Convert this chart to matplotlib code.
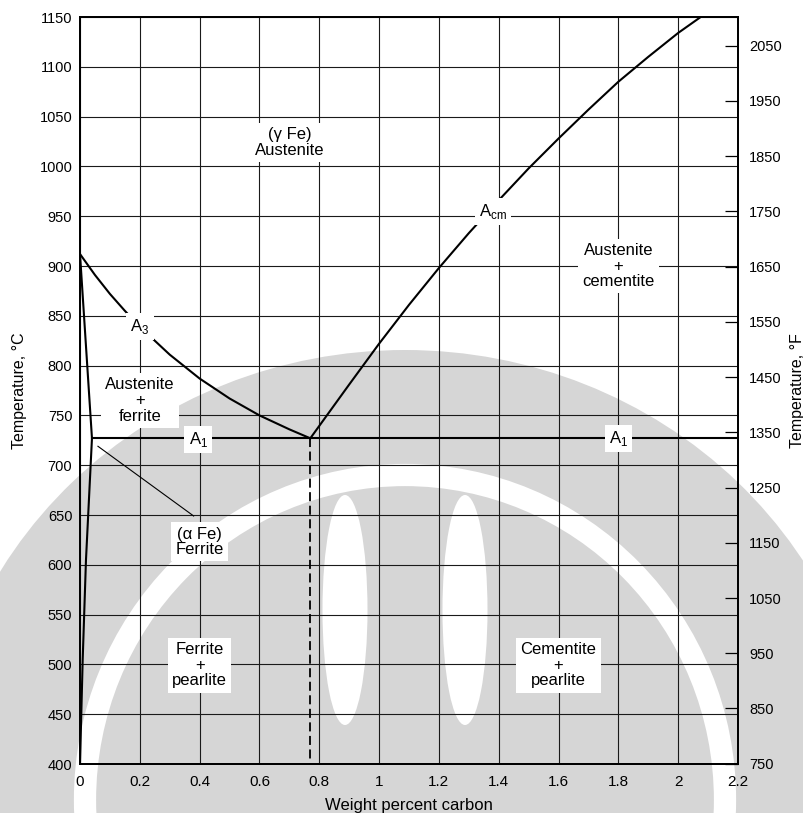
import numpy as np
import matplotlib.pyplot as plt
from matplotlib.patches import Ellipse

plt.rcParams['font.family'] = ['Liberation Sans', 'DejaVu Sans']
plt.rcParams['mathtext.fontset'] = 'custom'
plt.rcParams['mathtext.rm'] = 'Liberation Sans'

# axis ticks
x_ticks = [0, 0.2, 0.4, 0.6, 0.8, 1.0, 1.2, 1.4, 1.6, 1.8, 2.0, 2.2]
x_labels = ['0', '0.2', '0.4', '0.6', '0.8', '1', '1.2', '1.4', '1.6', '1.8', '2', '2.2']
c_ticks = list(range(400, 1151, 50))
f_ticks = list(range(750, 2051, 100))

# phase boundaries (wt% C, deg C)
a3_x = [0, 0.05, 0.1, 0.15, 0.2, 0.3, 0.4, 0.5, 0.6, 0.7, 0.77]
a3_t = [912, 891, 872, 855, 839, 811, 787, 767, 750, 736, 727]
acm_x = [0.77, 0.9, 1.0, 1.1, 1.2, 1.3, 1.4, 1.5, 1.6, 1.7, 1.8, 1.9, 2.0, 2.08]
acm_t = [727, 781, 822, 861, 898, 933, 966, 998, 1028, 1057, 1085, 1110, 1134, 1151]
alpha_x = [0, 0.04, 0.02, 0.009, 0]
alpha_t = [912, 727, 605, 505, 400]
a1_x = [0.04, 2.2]
a1_t = [727, 727]
eutectoid_x = 0.77
eutectoid_t = 727
leader_x = [0.06, 0.38]
leader_t = [719, 649]

labels = [
    ('(\u03b3 Fe)\nAustenite', 0.70, 1024),
    ('A$_\\mathregular{3}$', 0.20, 839),
    ('Austenite\n+\nferrite', 0.20, 765),
    ('A$_\\mathregular{1}$', 0.395, 726),
    ('A$_\\mathregular{1}$', 1.80, 727),
    ('(\u03b1 Fe)\nFerrite', 0.40, 623),
    ('Ferrite\n+\npearlite', 0.40, 499),
    ('Cementite\n+\npearlite', 1.60, 499),
    ('Austenite\n+\ncementite', 1.80, 900),
    ('A$_\\mathregular{cm}$', 1.38, 955),
]


def c2f(c):
    return c * 9 / 5 + 32


fig = plt.figure(figsize=(8.04, 8.13), dpi=100)

# faint watermark behind the chart
bg = fig.add_axes([0, 0, 1, 1], zorder=0)
bg.set_xlim(0, 804)
bg.set_ylim(813, 0)
bg.axis('off')
grey = '#d6d6d6'
bg.add_patch(Ellipse((405, 800), 940, 900, fc=grey, ec='none'))
bg.add_patch(Ellipse((405, 800), 640, 650, fc='none', ec='white', lw=16))
bg.add_patch(Ellipse((345, 610), 45, 230, fc='white', ec='none'))
bg.add_patch(Ellipse((465, 610), 45, 230, fc='white', ec='none'))

ax = fig.add_axes([80 / 804, 1 - 764 / 813, 658 / 804, 747 / 813], zorder=1)
ax.patch.set_visible(False)
ax.set_xlim(0, 2.2)
ax.set_ylim(400, 1150)
ax.set_xticks(x_ticks)
ax.set_xticklabels(x_labels)
ax.set_yticks(c_ticks)
ax.set_axisbelow(True)
ax.grid(True, color='#1a1a1a', lw=0.8)
ax.tick_params(axis='y', length=0, pad=5.5, labelsize=10.5)
ax.tick_params(axis='x', length=0, pad=8, labelsize=11)
for s in ax.spines.values():
    s.set_linewidth(1.3)

ax.plot(a3_x, a3_t, color='black', lw=1.5, zorder=2)
ax.plot(acm_x, acm_t, color='black', lw=1.5, zorder=2)
ax.plot(alpha_x, alpha_t, color='black', lw=1.5, zorder=2)
ax.plot(a1_x, a1_t, color='black', lw=1.5, zorder=2)
ax.plot(leader_x, leader_t, color='black', lw=0.8, zorder=2)
ax.plot([eutectoid_x, eutectoid_x], [eutectoid_t, 400], color='black', lw=1.3,
        ls=(0, (5, 2.5)), zorder=2)

for txt, x, t in labels:
    ax.text(x, t, txt, ha='center', va='center', fontsize=12, linespacing=1.05,
            zorder=3, bbox=dict(boxstyle='square,pad=0.25', fc='white', ec='none'))

ax.set_xlabel('Weight percent carbon', fontsize=12)
ax.xaxis.set_label_coords(0.5, -0.0455)
ax.set_ylabel('Temperature, \u00b0C', fontsize=11.5)
ax.yaxis.set_label_coords(-0.0805, 0.5)

ax2 = ax.twinx()
ax2.set_ylim(749.5, c2f(1150))
ax2.set_yticks(f_ticks)
ax2.tick_params(axis='y', direction='in', length=9.5, width=0.9, pad=8, labelsize=10.5)
for s in ax2.spines.values():
    s.set_linewidth(1.3)
ax2.set_ylabel('Temperature, \u00b0F', fontsize=11.5)
ax2.yaxis.set_label_coords(1.079, 0.5)

fig.savefig('out.png', dpi=100)
